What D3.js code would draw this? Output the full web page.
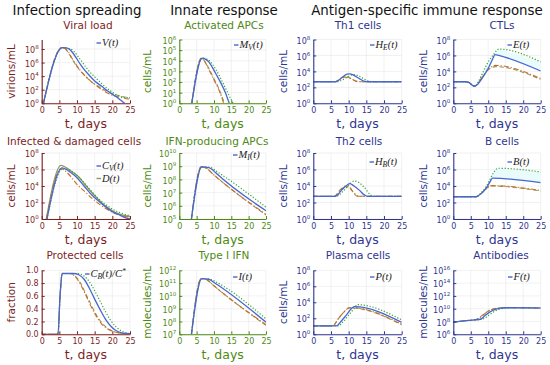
<!DOCTYPE html>
<html>
<head>
<meta charset="utf-8">
<script src="https://cdn.jsdelivr.net/npm/d3@7"></script>
<style>
  body { margin: 0; background: #fff; }
  svg { display: block; font-family: "DejaVu Sans", sans-serif; }
</style>
</head>
<body>
<svg id="chart" width="550" height="365"></svg>
<script>
// ---- data: each series is a list of [t (days), value] ; log panels store log10 of the value
// series order in every panel: 0 blue solid, 1 green dotted, 2 orange dash-dot, 3 olive dashed
const xTicks = [0, 5, 10, 15, 20, 25];

const viralLoad = [
  [[0.5,0],[5.9,8.2],[7,8.15],[8,7.9],[9,7.3],[10,6.5],[11,5.7],[12,5.0],[13,4.4],[15,3.3],[17,2.5],[19,1.7],[21,1.0],[22.5,0.4],[23.5,0]],
  [[0.5,0],[5.9,8.2],[7,8.15],[8,8.05],[9,7.7],[10,7.1],[11,6.4],[12,5.7],[13,5.0],[15,3.9],[17,2.9],[19,2.0],[21,1.3],[23,0.9],[25,0.8]],
  [[0.5,0],[5.7,8.2],[6.5,8.1],[7.5,7.6],[8.5,6.7],[10,5.5],[11,4.8],[12,4.2],[14,3.2],[16,2.4],[18,1.7],[20,1.2],[22,0.9],[25,0.6]],
  [[0.5,0],[5.7,8.2],[6.5,8.1],[7.5,7.5],[8.5,6.6],[10,5.4],[12,4.2],[14,3.2],[16,2.5],[18,1.9],[20,1.4],[22,1.1],[25,0.8]]
];
const activatedAPCs = [
  [[3.6,0],[6.6,4.25],[7.5,4.15],[8.5,3.9],[9.5,3.4],[10.5,2.8],[12,1.9],[13.3,1.0],[14.4,0]],
  [[3.6,0],[6.6,4.25],[7.5,4.2],[8.5,4.05],[9.5,3.7],[10.5,3.2],[12,2.3],[13.5,1.3],[15.5,0]],
  [[3.6,0],[6.4,4.25],[7.2,4.0],[8.5,3.2],[10,2.2],[11.5,1.2],[12.8,0]],
  [[3.6,0],[6.4,4.25],[7.2,4.0],[8.5,3.3],[10,2.3],[11.5,1.3],[13,0]]
];
const th1Cells = [
  [[0,2.7],[6.3,2.7],[8,3.2],[9.5,3.65],[10.3,3.7],[11.5,3.5],[13,3.1],[14.5,2.75],[15.5,2.7],[25,2.7]],
  [[0,2.7],[6.8,2.7],[8.5,3.0],[10,3.4],[11.5,3.6],[13,3.4],[14.5,3.0],[16,2.75],[17,2.7],[25,2.7]],
  [[0,2.7],[6,2.7],[7.5,3.0],[9,3.3],[10,3.2],[11.5,2.9],[12.8,2.7],[25,2.7]],
  [[0,2.7],[6,2.7],[7.5,3.05],[8.8,3.35],[10,3.25],[11.5,2.9],[12.8,2.7],[25,2.7]]
];
const ctls = [
  [[0,2.7],[3.5,2.7],[4.5,2.6],[5.5,2.25],[6.2,2.15],[7,2.4],[8.5,3.3],[10,4.4],[11,5.3],[12,6.1],[13,6.0],[25,4.05]],
  [[0,2.7],[3.5,2.7],[4.5,2.6],[5.5,2.25],[6.2,2.15],[7,2.6],[8.5,3.9],[10,5.2],[11.5,6.1],[13,6.8],[25,5.2]],
  [[0,2.7],[3.5,2.7],[4.5,2.6],[5.5,2.25],[6.2,2.15],[7,2.5],[8.5,3.4],[10,4.3],[11,4.6],[12,4.75],[25,3.1]],
  [[0,2.7],[3.5,2.7],[4.5,2.6],[5.5,2.25],[6.2,2.15],[7,2.5],[8.5,3.4],[10,4.2],[11,4.5],[12,4.6],[25,3.0]]
];
const infectedCells = [
  [[1.5,0],[5.8,6.2],[7,6.0],[8,5.7],[10,5.0],[12,4.0],[14,3.0],[16,2.2],[18,1.5],[20,0.9],[22,0.5],[24,0.1],[25,0]],
  [[1.5,0],[6,6.1],[8,5.9],[10,5.3],[12,4.4],[14,3.4],[16,2.5],[18,1.8],[20,1.2],[22,0.8],[25,0.4]],
  [[1.3,0],[5.5,6.1],[7,5.7],[8.5,5.0],[10,4.2],[12,3.4],[14,2.6],[16,1.9],[18,1.3],[20,0.8],[22,0.5],[25,0.2]],
  [[1.3,0],[5.5,6.5],[7,6.2],[9,5.6],[10.5,5.1],[12,4.3],[14,3.3],[16,2.4],[18,1.6],[20,1.0],[22,0.6],[25,0.3]]
];
const ifnAPCs = [
  [[3.5,5],[6.5,8.95],[8.5,8.9],[9.5,8.75],[10.5,8.5],[25,5.63]],
  [[3.5,5],[6.5,8.95],[9,8.9],[10.5,8.65],[25,5.9]],
  [[3.5,5],[6.3,8.95],[7.8,8.85],[9.5,8.45],[25,5.35]],
  [[3.5,5],[6.3,8.95],[7.8,8.85],[9.5,8.45],[25,5.3]]
];
const th2Cells = [
  [[0,2.75],[6.3,2.75],[8,3.5],[9.5,4.1],[10.3,4.3],[11.5,4.0],[13,3.5],[14.5,2.9],[15.3,2.75],[25,2.75]],
  [[0,2.75],[6.5,2.75],[8.5,3.4],[10,4.1],[11.5,4.6],[13,4.4],[14.5,3.8],[16,3.0],[16.8,2.75],[25,2.75]],
  [[0,2.75],[6,2.75],[7.5,3.4],[9,3.9],[10,3.9],[11.3,3.3],[12.5,2.8],[13,2.75],[25,2.75]],
  [[0,2.75],[6,2.75],[7.5,3.5],[9,4.0],[10,3.9],[11.3,3.2],[12.5,2.75],[25,2.75]]
];
const bCells = [
  [[0,2.7],[6.5,2.7],[8,3.1],[9.5,3.8],[10.5,4.5],[11.2,4.95],[25,4.4]],
  [[0,2.7],[6.5,2.7],[8,3.2],[9.5,4.0],[10.5,4.8],[11.5,5.6],[12.5,6.1],[13,6.15],[25,5.7]],
  [[0,2.7],[6.5,2.7],[8,3.1],[9.5,3.7],[10.5,4.0],[11,4.05],[25,3.45]],
  [[0,2.7],[6.5,2.7],[8,3.1],[9.5,3.7],[10.5,4.0],[11,4.0],[25,3.4]]
];
const protectedCells = [
  [[0,0],[4.6,0],[5.2,0.6],[5.8,0.95],[9,0.95],[10.5,0.93],[12,0.86],[13.5,0.72],[15,0.55],[16.5,0.39],[18,0.24],[19.5,0.13],[21,0.06],[23,0.02],[25,0.01]],
  [[0,0],[4.6,0],[5.2,0.6],[5.8,0.95],[10,0.95],[12,0.91],[13.5,0.82],[15,0.68],[16.5,0.52],[18,0.36],[19.5,0.22],[21,0.12],[23,0.04],[25,0.01]],
  [[0,0],[4.6,0],[5.2,0.6],[5.8,0.95],[8,0.95],[9.5,0.9],[11,0.78],[12.5,0.61],[14,0.43],[15.5,0.28],[17,0.16],[18.5,0.09],[20,0.05],[22,0.02],[25,0.01]],
  [[0,0],[4.6,0],[5.2,0.6],[5.8,0.95],[8,0.95],[9.5,0.91],[11,0.8],[12.5,0.63],[14,0.46],[15.5,0.3],[17,0.18],[18.5,0.1],[20,0.05],[22,0.02],[25,0.01]]
];
const typeIIFN = [
  [[3.5,7],[6.5,11.35],[8.5,11.3],[10,11.05],[25,7.95]],
  [[3.5,7],[6.5,11.35],[9,11.3],[10.5,11.1],[25,8.2]],
  [[3.5,7],[6.3,11.35],[8,11.25],[9.5,10.9],[25,7.75]],
  [[3.5,7],[6.3,11.35],[8,11.25],[9.5,10.9],[25,7.7]]
];
const plasmaCells = [
  [[0,1.05],[6.5,1.05],[8,1.7],[9.5,2.5],[11,3.3],[11.7,3.45],[25,1.5]],
  [[0,1.05],[7,1.05],[8.5,1.6],[10,2.4],[11.5,3.2],[12.5,3.7],[25,1.8]],
  [[0,1.05],[5.5,1.05],[7,1.9],[8.5,2.7],[10,3.3],[10.5,3.35],[25,1.25]],
  [[0,1.05],[5.5,1.05],[7,1.9],[8.5,2.7],[10,3.3],[10.5,3.3],[25,1.2]]
];
const antibodies = [
  [[0,7.9],[3,8.1],[6,8.25],[7.8,8.35],[9,8.9],[10.5,9.5],[12,9.9],[13.5,10.1],[15,10.15],[25,10.1]],
  [[0,7.9],[3,8.1],[6,8.25],[8.5,8.4],[10,8.9],[11.5,9.5],[13,9.9],[14.5,10.1],[16,10.15],[25,10.15]],
  [[0,7.9],[3,8.1],[6,8.25],[7,8.4],[8.5,9.0],[10,9.6],[11.5,9.95],[13,10.1],[15,10.15],[25,10.1]],
  [[0,7.9],[3,8.1],[6,8.25],[7,8.45],[8.5,9.05],[10,9.65],[11.5,10.0],[13,10.1],[15,10.15],[25,10.1]]
];

const columnTitles = ["Infection spreading", "Innate response", "Antigen-specific immune response"];
const panelTitles = ["Viral load", "Activated APCs", "Th1 cells", "CTLs",
  "Infected & damaged cells", "IFN-producing APCs", "Th2 cells", "B cells",
  "Protected cells", "Type I IFN", "Plasma cells", "Antibodies"];
const yLabels = ["virions/mL", "cells/mL", "cells/mL", "cells/mL",
  "cells/mL", "cells/mL", "cells/mL", "cells/mL",
  "fraction", "molecules/mL", "cells/mL", "molecules/mL"];
const legendLabels = [["V(t)"], ["M_V(t)"], ["H_E(t)"], ["E(t)"],
  ["C_V(t)", "D(t)"], ["M_I(t)"], ["H_B(t)"], ["B(t)"],
  ["C_B(t)/C^*"], ["I(t)"], ["P(t)"], ["F(t)"]];
const yTicks = [[0,2,4,6,8], [0,1,2,3,4,5,6], [0,2,4,6,8], [0,2,4,6,8],
  [0,2,4,6,8], [5,6,7,8,9,10], [0,2,4,6,8], [0,2,4,6,8],
  [0,0.2,0.4,0.6,0.8,1], [7,8,9,10,11,12], [0,2,4,6,8], [6,8,10,12,14,16]];
const yDomains = [[0,9.4], [0,6], [0,8], [0,8], [0,8], [5,10], [0,8], [0,8],
  [0,1], [7,12], [0,8], [6,16]];
const panelData = [viralLoad, activatedAPCs, th1Cells, ctls, infectedCells, ifnAPCs,
  th2Cells, bCells, protectedCells, typeIIFN, plasmaCells, antibodies];

// ---- layout
const colX = [[41.7, 130], [179.3, 266], [313.3, 401.7], [453.3, 540.7]];
const rowY = [[39.5, 103.3], [153, 219], [270.3, 334.3]];
const colColor = ["#7d1f1f", "#4e8a12", "#2f3590", "#2f3590"];
const yLabelX = [11, 147, 283, 423];
const titleY = [29, 145, 259];
const titleCx = [88, 224, 358, 502, 74, 217, 359, 502, 85, 224, 358, 501];
const legendPos = [[96.5,43],[234,45],[370,45],[507.5,45],[96.5,166],[233,155],
  [369.5,162],[507.5,162],[85,274],[233,277],[370,277],[508,277]];
const lineStyle = [
  { color: "#4866d0", dash: null, width: 1.3 },
  { color: "#33a532", dash: "1.2,1.8", width: 1.2 },
  { color: "#d06a20", dash: "5,2,1.2,2", width: 1.1 },
  { color: "#8c9a62", dash: "4.5,2.5", width: 1.1 }
];

const svg = d3.select("#chart");

// column headings
const headCx = [77, 224, 427];
columnTitles.forEach((t, i) => {
  svg.append("text").attr("x", headCx[i]).attr("y", 15)
    .attr("text-anchor", "middle").attr("font-size", 13.4).attr("fill", "#111").text(t);
});

function mathText(sel, s) {
  let shift = 0;
  s.split(/([_^].)/).filter(p => p).forEach(p => {
    let d = 0, small = false, txt = p;
    if (p[0] === "_") { d = 2.2; small = true; txt = p[1]; }
    else if (p[0] === "^") { d = -3.5; small = true; txt = p[1]; }
    sel.append("tspan").attr("dy", d - shift).attr("font-size", small ? 7.5 : null).text(txt);
    shift = d;
  });
}

panelData.forEach((series, k) => {
  const col = k % 4, row = Math.floor(k / 4);
  const [x0, x1] = colX[col], [y0, y1] = rowY[row];
  const color = colColor[col];
  const isLog = k !== 8;
  const x = d3.scaleLinear().domain([0, 25]).range([x0, x1]);
  const y = isLog
    ? d3.scaleLog().domain(yDomains[k].map(e => Math.pow(10, e))).range([y1, y0])
    : d3.scaleLinear().domain(yDomains[k]).range([y1, y0]);
  const yv = v => y(isLog ? Math.pow(10, v) : v);
  const g = svg.append("g");

  // grid
  g.selectAll(".gx").data(xTicks).join("line")
    .attr("x1", d => x(d)).attr("x2", d => x(d)).attr("y1", y0).attr("y2", y1)
    .attr("stroke", "#e8e8e8").attr("stroke-width", 0.6);
  g.selectAll(".gy").data(yTicks[k]).join("line")
    .attr("x1", x0).attr("x2", x1).attr("y1", d => yv(d)).attr("y2", d => yv(d))
    .attr("stroke", "#e8e8e8").attr("stroke-width", 0.6);

  const clipId = "clip" + k;
  svg.append("clipPath").attr("id", clipId).append("rect")
    .attr("x", x0).attr("y", y0 - 1).attr("width", x1 - x0).attr("height", y1 - y0 + 1);
  const plot = g.append("g").attr("clip-path", `url(#${clipId})`);

  // light band between green and blue (CTLs, B cells)
  if (k === 3 || k === 7) {
    const poly = series[1].concat(series[0].slice().reverse());
    plot.append("path").attr("d", d3.line().x(d => x(d[0])).y(d => yv(d[1]))(poly) + "Z")
      .attr("fill", "#e9fbfb").attr("stroke", "none");
  }

  const line = d3.line().x(d => x(d[0])).y(d => yv(d[1])).curve(d3.curveMonotoneX);
  [3, 2, 1, 0].forEach(i => {
    const st = lineStyle[i];
    const solid = (k === 4 && i === 3);
    plot.append("path").attr("d", line(series[i]))
      .attr("fill", "none").attr("stroke", st.color)
      .attr("stroke-width", solid ? 1.3 : st.width)
      .attr("stroke-dasharray", solid ? null : st.dash)
      .attr("stroke-linejoin", "round");
  });

  // axes
  const ax = g.append("g").attr("transform", `translate(0,${y1})`)
    .call(d3.axisBottom(x).tickValues(xTicks).tickSizeInner(-3).tickSizeOuter(0).tickPadding(4));
  const ay = g.append("g").attr("transform", `translate(${x0},0)`)
    .call(d3.axisLeft(isLog ? d3.scaleLinear().domain(yDomains[k]).range([y1, y0]) : y)
      .tickValues(yTicks[k]).tickSizeInner(-3).tickSizeOuter(0).tickPadding(3)
      .tickFormat(isLog ? (d => d) : d3.format(".1f")));
  [ax, ay].forEach(a => {
    a.select(".domain").attr("stroke", color).attr("stroke-width", 1.1);
    a.selectAll(".tick line").attr("stroke", color);
    a.selectAll(".tick text").attr("fill", color).attr("font-size", 8)
      .attr("font-family", "DejaVu Sans");
  });
  if (isLog) {
    ay.selectAll(".tick text").each(function (d) {
      const t = d3.select(this).text("").attr("dy", "0.45em");
      t.append("tspan").text("10");
      t.append("tspan").attr("dy", -4).attr("font-size", 5.5).text(d);
    });
  }

  // texts
  svg.append("text").attr("x", titleCx[k]).attr("y", titleY[row])
    .attr("text-anchor", "middle").attr("font-size", 10.5).attr("fill", color).text(panelTitles[k]);
  svg.append("text").attr("transform", `translate(${yLabelX[col]},${(y0 + y1) / 2}) rotate(-90)`)
    .attr("text-anchor", "middle").attr("dy", "0.35em").attr("font-size", 10.5)
    .attr("fill", color).text(yLabels[k]);
  svg.append("text").attr("x", (x0 + x1) / 2).attr("y", y1 + 25)
    .attr("text-anchor", "middle").attr("font-size", 12.5).attr("fill", color).text("t, days");

  // legend
  const [lx, ly] = legendPos[k];
  legendLabels[k].forEach((lab, j) => {
    const st = (k === 4 && j === 1) ? lineStyle[3] : lineStyle[0];
    const yy = ly + j * 12.5;
    svg.append("line").attr("x1", lx).attr("x2", lx + 4.5).attr("y1", yy).attr("y2", yy)
      .attr("stroke", st.color).attr("stroke-width", 1.4);
    const t = svg.append("text").attr("x", lx + 5.5).attr("y", yy + 3.2)
      .attr("font-family", "Liberation Serif, serif").attr("font-style", "italic")
      .attr("font-size", 10.5).attr("fill", "#222");
    mathText(t, lab);
  });
});
</script>
</body>
</html>
